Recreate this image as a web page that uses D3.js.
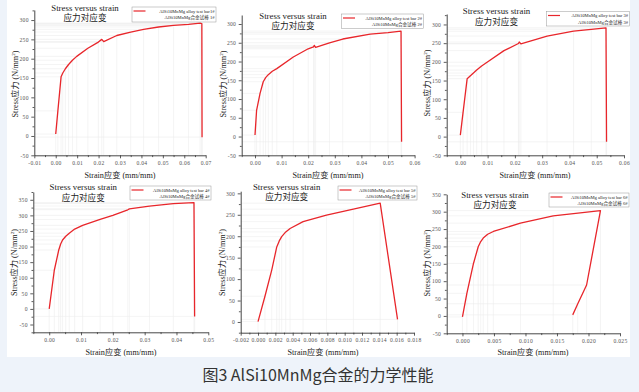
<!DOCTYPE html>
<html><head><meta charset="utf-8">
<script src="https://cdn.jsdelivr.net/npm/d3@7/dist/d3.min.js"></script>
<style>
html,body{margin:0;padding:0;background:#eef3fa;}
svg{display:block;}
</style></head>
<body>
<svg id="c" width="639" height="392"></svg>
<script>
// ---- data ----
const strain1 = [0, 0.0010, 0.0025, 0.0033, 0.0045, 0.0060, 0.0078, 0.0098, 0.0150, 0.0199, 0.0215, 0.0224, 0.0285, 0.0350, 0.0410, 0.0480, 0.0550, 0.0620, 0.0674, 0.0682, 0.0683];
const stress1 = [5, 65, 153, 163, 174, 185, 196, 206, 227, 243, 250, 244, 260, 269, 276, 282, 286, 289, 292, 291, -3];
const strain2 = [0, 0.0006, 0.0019, 0.0031, 0.0040, 0.0050, 0.0065, 0.0082, 0.0144, 0.0200, 0.0220, 0.0223, 0.0228, 0.0280, 0.0330, 0.0433, 0.0500, 0.0549, 0.0551];
const stress2 = [4, 70, 115, 146, 157, 165, 174, 181, 212, 234, 239, 243, 238, 250, 260, 273, 277, 281, -14];
const strain3 = [0, 0.0010, 0.0025, 0.0037, 0.0048, 0.0060, 0.0078, 0.0098, 0.0160, 0.0213, 0.0216, 0.0222, 0.0318, 0.0415, 0.0480, 0.0534, 0.0536];
const stress3 = [4, 65, 155, 163, 170, 178, 189, 199, 230, 249, 253, 248, 269, 282, 287, 291, -14];
const strain4 = [0, 0.0016, 0.0030, 0.0036, 0.0042, 0.0052, 0.0063, 0.0080, 0.0105, 0.0160, 0.0200, 0.0247, 0.0252, 0.0315, 0.0390, 0.0455, 0.0457];
const stress4 = [0, 124, 189, 208, 221, 233, 243, 256, 268, 287, 300, 318, 321, 330, 338, 341, -24];
const strain5 = [0, 0.0008, 0.00158, 0.00216, 0.00245, 0.00273, 0.0032, 0.0037, 0.0052, 0.0079, 0.0110, 0.0141, 0.0161];
const stress5 = [1, 60, 121, 175, 189, 199, 210, 218, 234, 249, 263, 277, 6];
const strain6 = [0, 0.0007, 0.00175, 0.0025, 0.0029, 0.0033, 0.0040, 0.0049, 0.0092, 0.0144, 0.0219, 0.0197, 0.0183, 0.0175];
const stress6 = [-3, 65, 151, 199, 214, 224, 235, 243, 267, 288, 303, 89, 35, 3];

const xTicks1 = [-0.01, 0, 0.01, 0.02, 0.03, 0.04, 0.05, 0.06, 0.07];
const xTicks2 = [0, 0.01, 0.02, 0.03, 0.04, 0.05, 0.06];
const xTicks3 = [0, 0.01, 0.02, 0.03, 0.04, 0.05, 0.06];
const xTicks4 = [0, 0.01, 0.02, 0.03, 0.04, 0.05];
const xTicks5 = [-0.002, 0, 0.002, 0.004, 0.006, 0.008, 0.010, 0.012, 0.014, 0.016, 0.018];
const xTicks6 = [0, 0.005, 0.010, 0.015, 0.020, 0.025];
const yTicks1 = [-50, 0, 50, 100, 150, 200, 250, 300];
const yTicks2 = [-50, 0, 50, 100, 150, 200, 250, 300];
const yTicks3 = [-50, 0, 50, 100, 150, 200, 250, 300];
const yTicks4 = [-50, 0, 50, 100, 150, 200, 250, 300, 350];
const yTicks5 = [0, 50, 100, 150, 200, 250, 300];
const yTicks6 = [-50, 0, 50, 100, 150, 200, 250, 300, 350];

const legendEn = ["AlSi10MnMg alloy test bar1#", "AlSi10MnMg alloy test bar 2#", "AlSi10MnMg alloy test bar 3#", "AlSi10MnMg alloy test bar 4#", "AlSi10MnMg alloy test bar 5#", "AlSi10MnMg alloy test bar 6#"];
const legendZh = ["AlSi10MnMg合金试棒 1#", "AlSi10MnMg合金试棒 2#", "AlSi10MnMg合金试棒 3#", "AlSi10MnMg合金试棒 4#", "AlSi10MnMg合金试棒 5#", "AlSi10MnMg合金试棒 6#"];
const titleEn = "Stress versus strain";
const titleZh = "应力对应变";
const caption = "图3 AlSi10MnMg合金的力学性能";

// ---- layout (pixels) ----
const panels = [
  {sx: strain1, sy: stress1, xt: xTicks1, yt: yTicks1, xd: [-0.01, 0.07], yd: [-50, 326], xr: [34.3, 205.7], yr: [155.3, 10], xf: ".2f", xm: 0.005, ym: 25,
   title: [85, 10.5], leg: [132, 7, 84, 15], xl: [120, 178], yl: [15, 84]},
  {sx: strain2, sy: stress2, xt: xTicks2, yt: yTicks2, xd: [-0.005, 0.06], yd: [-50, 324], xr: [241.7, 414.6], yr: [155.3, 15], xf: ".2f", xm: 0.005, ym: 25,
   title: [293, 18.5], leg: [341.5, 14, 82, 14.5], xl: [328, 177.5], yl: [223.3, 84]},
  {sx: strain3, sy: stress3, xt: xTicks3, yt: yTicks3, xd: [-0.005, 0.06], yd: [-50, 328], xr: [446.7, 624], yr: [155.3, 14], xf: ".2f", xm: 0.005, ym: 25,
   title: [496.5, 14], leg: [546.5, 11.5, 83, 14.5], xl: [535, 177.5], yl: [426.7, 83]},
  {sx: strain4, sy: stress4, xt: xTicks4, yt: yTicks4, xd: [-0.005, 0.05], yd: [-75, 375], xr: [33.3, 208.3], yr: [332.3, 192], xf: ".2f", xm: 0.005, ym: 25,
   title: [83.3, 190], leg: [130, 186, 81, 14], xl: [121, 355], yl: [14, 262.5]},
  {sx: strain5, sy: stress5, xt: xTicks5, yt: yTicks5, xd: [-0.002, 0.018], yd: [-25, 305], xr: [240.7, 414], yr: [332.7, 191.2], xf: ".3f", xm: 0.001, ym: 25,
   title: [286.7, 189.5], leg: [338, 186, 79, 14], xl: [323, 355], yl: [221.7, 262.5]},
  {sx: strain6, sy: stress6, xt: xTicks6, yt: yTicks6, xd: [-0.0025, 0.025], yd: [-50, 350], xr: [446.7, 620], yr: [333.3, 194.3], xf: ".3f", xm: 0.0025, ym: 25,
   title: [495, 197.5], leg: [549, 193, 80, 14], xl: [533, 355], yl: [426.7, 263]}
];

const svg = d3.select("#c");
svg.append("rect").attr("x", 7).attr("y", 0).attr("width", 623).attr("height", 357).attr("fill", "#ffffff");

const SERIF = "'Liberation Serif','Times New Roman','Noto Sans CJK SC',serif";
const RED = "#e8262b";

panels.forEach((p, i) => {
  const x = d3.scaleLinear().domain(p.xd).range(p.xr);
  const y = d3.scaleLinear().domain(p.yd).range(p.yr);
  const g = svg.append("g");
  const pts = p.sx.map((v, k) => [v, p.sy[k]]);

  // faint drop lines
  const drop = g.append("g").attr("stroke", "#ececec").attr("stroke-width", 0.6);
  pts.forEach(d => {
    drop.append("line").attr("x1", x(d[0])).attr("x2", x(d[0])).attr("y1", y(d[1])).attr("y2", y(p.yd[0]));
    drop.append("line").attr("x1", x(p.xd[0])).attr("x2", x(d[0])).attr("y1", y(d[1])).attr("y2", y(d[1]));
  });

  // axes
  const fmtX = v => d3.format(p.xf)(v).replace("−", "-");
  const fmtY = v => String(v).replace("−", "-");
  const y0 = p.yr[0], x0 = p.xr[0];
  const xMinor = d3.range(p.xd[0], p.xd[1] + 1e-9, p.xm).filter(v => !p.xt.some(t => Math.abs(t - v) < 1e-9));
  const yMinor = d3.range(Math.ceil(p.yd[0] / p.ym) * p.ym, p.yd[1] + 1e-9, p.ym).filter(v => !p.yt.includes(v));

  g.append("g").attr("transform", `translate(0,${y0})`)
    .call(d3.axisBottom(x).tickValues(p.xt).tickSize(3).tickSizeOuter(0).tickPadding(2.5).tickFormat(fmtX));
  g.append("g").attr("transform", `translate(0,${y0})`)
    .call(d3.axisBottom(x).tickValues(xMinor).tickSize(1.8).tickSizeOuter(0).tickFormat(""))
    .select(".domain").remove();
  g.append("g").attr("transform", `translate(${x0},0)`)
    .call(d3.axisLeft(y).tickValues(p.yt).tickSize(3).tickSizeOuter(0).tickPadding(2.5).tickFormat(fmtY));
  g.append("g").attr("transform", `translate(${x0},0)`)
    .call(d3.axisLeft(y).tickValues(yMinor).tickSize(1.8).tickSizeOuter(0).tickFormat(""))
    .select(".domain").remove();
  g.selectAll(".domain").attr("stroke", "#333").attr("stroke-width", 0.9);
  g.selectAll(".tick line").attr("stroke", "#333").attr("stroke-width", 0.8);
  g.selectAll(".tick text").attr("font-family", SERIF).attr("font-size", 5.6).attr("fill", "#555").attr("letter-spacing", 0.3);

  // curve
  g.append("path").datum(pts)
    .attr("d", d3.line().x(d => x(d[0])).y(d => y(d[1])))
    .attr("fill", "none").attr("stroke", RED).attr("stroke-width", 1.3).attr("stroke-linejoin", "round");

  // title
  g.append("text").attr("x", p.title[0]).attr("y", p.title[1]).attr("text-anchor", "middle")
    .attr("font-family", SERIF).attr("font-size", 8.8).attr("fill", "#222").text(titleEn);
  g.append("text").attr("x", p.title[0]).attr("y", p.title[1] + 10.8).attr("text-anchor", "middle")
    .attr("font-family", SERIF).attr("font-size", 8.6).attr("fill", "#222").text(titleZh);

  // legend
  const [lx, ly, lw, lh] = p.leg;
  g.append("rect").attr("x", lx).attr("y", ly).attr("width", lw).attr("height", lh)
    .attr("fill", "#fff").attr("stroke", "#999").attr("stroke-width", 0.5);
  g.append("line").attr("x1", lx + 1.5).attr("x2", lx + 13.5).attr("y1", ly + 4).attr("y2", ly + 4)
    .attr("stroke", RED).attr("stroke-width", 1.2);
  g.append("text").attr("x", lx + lw - 1.5).attr("y", ly + 5.6).attr("text-anchor", "end")
    .attr("font-family", SERIF).attr("font-size", 4.6).attr("fill", "#222").text(legendEn[i]);
  g.append("text").attr("x", lx + lw - 1.5).attr("y", ly + 12).attr("text-anchor", "end")
    .attr("font-family", SERIF).attr("font-size", 4.6).attr("fill", "#222").text(legendZh[i]);

  // axis labels
  g.append("text").attr("x", p.xl[0]).attr("y", p.xl[1]).attr("text-anchor", "middle")
    .attr("font-family", SERIF).attr("font-size", 8.2).attr("fill", "#222")
    .text("Strain应变 (mm/mm)");
  const yl = g.append("text").attr("transform", `translate(${p.yl[0]},${p.yl[1]}) rotate(-90)`)
    .attr("text-anchor", "middle").attr("dy", "0.35em")
    .attr("font-family", SERIF).attr("font-size", 8.2).attr("fill", "#222");
  yl.append("tspan").text("Stress应力 (N/mm");
  yl.append("tspan").attr("font-size", 5).attr("dy", "-3").text("2");
  yl.append("tspan").attr("dy", "3").text(")");
});

svg.append("text").attr("x", 318).attr("y", 381).attr("text-anchor", "middle")
  .attr("font-family", "'Noto Sans CJK SC','Noto Sans',sans-serif").attr("font-size", 16).attr("fill", "#333")
  .text(caption);
</script>
</body></html>
